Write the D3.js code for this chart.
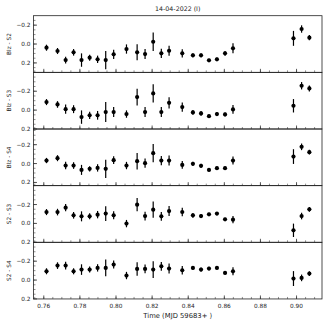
<!DOCTYPE html>
<html>
<head>
<meta charset="utf-8">
<script src="https://cdn.jsdelivr.net/npm/d3@7"></script>
<style>
  body { margin: 0; background: #fff; }
  text { font-family: "DejaVu Sans", sans-serif; fill: #222; }
</style>
</head>
<body>
<svg width="327" height="327"></svg>
<script>

// DATA ––––––––––––––––––––––––––––––––––––––––––––––––––––––––––––––––

var times = [0.7615, 0.7676, 0.7721, 0.7765, 0.7809, 0.7854, 0.7898, 0.7943, 0.7987, 0.8058,
             0.8117, 0.8161, 0.8206, 0.8251, 0.8294, 0.8367, 0.8426, 0.8471, 0.8515, 0.8559,
             0.8604, 0.8648, 0.8983, 0.9028, 0.9071];

var panelLabels = ["Blz - S2", "Blz - S3", "Blz - S4", "S2 - S3", "S2 - S4"];

var blzS2 = [0.039, 0.074, 0.170, 0.088, 0.170, 0.145, 0.162, 0.170, 0.109, 0.053,
             0.088, 0.106, -0.024, 0.099, 0.071, 0.099, 0.120, 0.120, 0.173, 0.162,
             0.099, 0.046, -0.060, -0.159, -0.067];
var blzS2Err = [0.032, 0.032, 0.035, 0.035, 0.071, 0.032, 0.039, 0.097, 0.049, 0.049,
                0.085, 0.053, 0.097, 0.049, 0.053, 0.044, 0.021, 0.021, 0.018, 0.018,
                0.025, 0.053, 0.079, 0.039, 0.028];

var blzS3 = [-0.085, -0.060, -0.010, -0.010, 0.074, 0.055, 0.055, 0.021, 0.021, 0.042,
             -0.138, 0.021, -0.177, 0.021, -0.077, -0.032, 0.024, 0.035, 0.064, 0.042,
             0.046, -0.007, -0.046, -0.258, -0.230];
var blzS3Err = [0.032, 0.035, 0.049, 0.042, 0.071, 0.039, 0.046, 0.106, 0.053, 0.039,
                0.088, 0.053, 0.097, 0.053, 0.060, 0.049, 0.025, 0.025, 0.018, 0.021,
                0.021, 0.046, 0.071, 0.039, 0.032];

var blzS4 = [-0.032, -0.057, 0.021, 0.021, 0.067, 0.056, 0.046, 0.056, -0.036, 0.021,
             -0.025, -0.004, -0.110, -0.032, -0.032, 0.014, 0.003, 0.024, 0.067, 0.049,
             0.049, -0.032, -0.074, -0.177, -0.121];
var blzS4Err = [0.028, 0.032, 0.039, 0.035, 0.053, 0.028, 0.039, 0.097, 0.042, 0.039,
                0.088, 0.049, 0.097, 0.049, 0.053, 0.042, 0.021, 0.021, 0.018, 0.018,
                0.018, 0.042, 0.078, 0.035, 0.025];

var s2S3 = [-0.120, -0.120, -0.167, -0.086, -0.075, -0.075, -0.093, -0.104, -0.086, 0.002,
            -0.199, -0.078, -0.146, -0.075, -0.131, -0.121, -0.086, -0.078, -0.096, -0.104,
            -0.043, -0.040, 0.073, -0.078, -0.149];
var s2S3Err = [0.032, 0.035, 0.039, 0.035, 0.053, 0.032, 0.039, 0.079, 0.042, 0.039,
               0.071, 0.046, 0.085, 0.046, 0.053, 0.046, 0.025, 0.021, 0.018, 0.018,
               0.018, 0.039, 0.071, 0.035, 0.025];

var s2S4 = [-0.093, -0.153, -0.153, -0.093, -0.111, -0.111, -0.129, -0.129, -0.164, -0.048,
            -0.118, -0.118, -0.111, -0.146, -0.122, -0.104, -0.129, -0.111, -0.122, -0.129,
            -0.076, -0.093, -0.016, -0.023, -0.069];
var s2S4Err = [0.032, 0.035, 0.042, 0.032, 0.056, 0.032, 0.039, 0.088, 0.042, 0.039,
               0.071, 0.046, 0.088, 0.046, 0.053, 0.046, 0.021, 0.021, 0.018, 0.018,
               0.018, 0.042, 0.079, 0.035, 0.025];

// y limits of each panel (magnitudes, so drawn inverted)
var yLimits = [[-0.3, 0.3], [-0.4, 0.2], [-0.366, 0.234], [-0.4, 0.2], [-0.4, 0.2]];

var xTicks = [0.76, 0.78, 0.80, 0.82, 0.84, 0.86, 0.88, 0.90];
var yTicks = [-0.2, 0.0, 0.2];

var title = "14-04-2022  (I)";
var xLabel = "Time (MJD 59683+ )";


// D3 ––––––––––––––––––––––––––––––––––––––––––––––––––––––––––––––––––

var draw = function() {
  var series = [blzS2, blzS3, blzS4, s2S3, s2S4],
      errors = [blzS2Err, blzS3Err, blzS4Err, s2S3Err, s2S4Err];

  var svg = d3.select("svg"),
      left = 33.5, right = 322, top = 15.7, panelH = 56.65;

  var x = d3.scaleLinear()
    .domain([0.7543, 0.9141])
    .range([left, right]);

  var fmt = d3.format(".1f"),
      fmtX = d3.format(".2f");

  series.forEach(function(vals, p) {
    var y0 = top + p * panelH;
    var y = d3.scaleLinear()
      .domain(yLimits[p])
      .range([y0, y0 + panelH]);

    var g = svg.append("g");

    // minor ticks, inward
    var yMinor = d3.range(-0.4, 0.401, 0.05).filter(function(v) {
      return v >= yLimits[p][0] && v <= yLimits[p][1];
    });
    g.selectAll(".ymin").data(yMinor).enter().append("line")
      .attr("x1", left).attr("x2", left + 2)
      .attr("y1", function(d) { return y(d); }).attr("y2", function(d) { return y(d); })
      .attr("stroke", "#444").attr("stroke-width", 0.6);

    var xMinor = d3.range(0.755, 0.9141, 0.005);
    g.selectAll(".xmin").data(xMinor).enter().append("line")
      .attr("x1", function(d) { return x(d); }).attr("x2", function(d) { return x(d); })
      .attr("y1", y0 + panelH).attr("y2", y0 + panelH - 2)
      .attr("stroke", "#444").attr("stroke-width", 0.6);

    // major ticks
    g.selectAll(".ymaj").data(yTicks).enter().append("line")
      .attr("x1", left).attr("x2", left + 3.5)
      .attr("y1", function(d) { return y(d); }).attr("y2", function(d) { return y(d); })
      .attr("stroke", "#333").attr("stroke-width", 0.8);

    g.selectAll(".xmaj").data(xTicks).enter().append("line")
      .attr("x1", function(d) { return x(d); }).attr("x2", function(d) { return x(d); })
      .attr("y1", y0 + panelH).attr("y2", y0 + panelH - 3.5)
      .attr("stroke", "#333").attr("stroke-width", 0.8);

    g.selectAll(".ylab").data(yTicks).enter().append("text")
      .attr("x", left - 3)
      .attr("y", function(d) { return y(d); })
      .attr("dy", "0.35em")
      .attr("text-anchor", "end")
      .attr("font-size", 5.8)
      .text(function(d) { return fmt(d); });

    // axis name
    g.append("text")
      .attr("transform", "translate(11," + (y0 + panelH / 2) + ") rotate(-90)")
      .attr("text-anchor", "middle")
      .attr("font-size", 5.8)
      .text(panelLabels[p]);

    // error bars
    g.selectAll(".err").data(vals).enter().append("line")
      .attr("x1", function(d, i) { return x(times[i]); })
      .attr("x2", function(d, i) { return x(times[i]); })
      .attr("y1", function(d, i) { return y(d - errors[p][i]); })
      .attr("y2", function(d, i) { return y(d + errors[p][i]); })
      .attr("stroke", "#000").attr("stroke-width", 1.2);

    g.selectAll(".pt").data(vals).enter().append("circle")
      .attr("cx", function(d, i) { return x(times[i]); })
      .attr("cy", function(d) { return y(d); })
      .attr("r", 2.1)
      .attr("fill", "#000");

    g.append("rect")
      .attr("x", left).attr("y", y0)
      .attr("width", right - left).attr("height", panelH)
      .attr("fill", "none").attr("stroke", "#222").attr("stroke-width", 0.8);
  });

  var bottom = top + 5 * panelH;

  svg.selectAll(".xlab").data(xTicks).enter().append("text")
    .attr("x", function(d) { return x(d); })
    .attr("y", bottom + 9)
    .attr("text-anchor", "middle")
    .attr("font-size", 5.8)
    .text(function(d) { return fmtX(d); });

  svg.append("text")
    .attr("x", (left + right) / 2)
    .attr("y", bottom + 19)
    .attr("text-anchor", "middle")
    .attr("font-size", 6.8)
    .text(xLabel);

  svg.append("text")
    .attr("x", (left + right) / 2)
    .attr("y", 10.5)
    .attr("text-anchor", "middle")
    .attr("font-size", 6.3)
    .text(title);
};

draw();
</script>
</body>
</html>
